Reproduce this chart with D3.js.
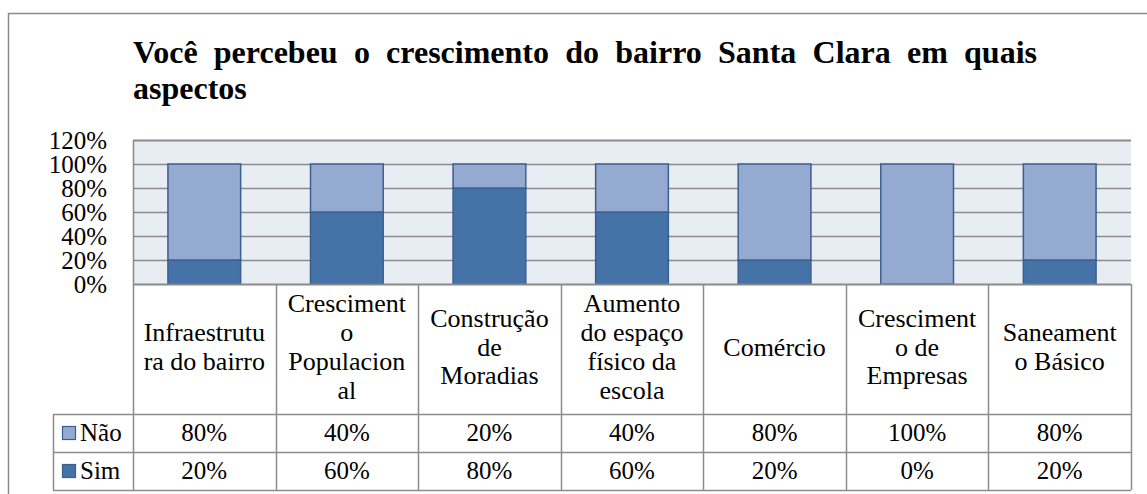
<!DOCTYPE html>
<html>
<head>
<meta charset="utf-8">
<script src="https://cdn.jsdelivr.net/npm/d3@7"></script>
</head>
<body>
<svg id="chart" width="1147" height="494"></svg>
<script>
// Survey answers per aspect of the neighbourhood's growth
const categories = [
  "Infraestrutura do bairro",
  "Crescimento Populacional",
  "Construção de Moradias",
  "Aumento do espaço físico da escola",
  "Comércio",
  "Crescimento de Empresas",
  "Saneamento Básico"
];
const seriesNames = ["Não", "Sim"];
const naoValues = [0.8, 0.4, 0.2, 0.4, 0.8, 1.0, 0.8];
const simValues = [0.2, 0.6, 0.8, 0.6, 0.2, 0.0, 0.2];
const yTicks = [0, 0.2, 0.4, 0.6, 0.8, 1.0, 1.2];
const titleLines = ["Você percebeu o crescimento do bairro Santa Clara em quais", "aspectos"];

const FONT = '"Liberation Serif"';
const colors = { "Não": "#95aad0", "Sim": "#4572a7" };
const barStroke = "#3a6090";
const gridColor = "#8a8a8a";
const tableColor = "#8c8c8c";

d3.select("body").style("margin", "0px");
const svg = d3.select("#chart").style("display", "block");

// text measurement on an offscreen canvas
const ctx = document.createElement("canvas").getContext("2d");
function measure(s, size, weight) {
  ctx.font = `${weight || "normal"} ${size}px ${FONT}`;
  return ctx.measureText(s).width;
}

// layout
const plot = { left: 133, right: 1131, top: 140, bottom: 284 };
const headerBottom = 414;
const rowH = 38;
const legendLeft = 53;

const label = sel => sel.style("font-family", FONT).attr("fill", "#000");

// outer frame
svg.append("rect")
  .attr("x", 8.5).attr("y", 13.5)
  .attr("width", 1200).attr("height", 600)
  .attr("fill", "none").attr("stroke", "#8a8a8a").attr("stroke-width", 1.5);

// title, first line justified
const titleG = svg.append("g");
(function justify(line, x0, x1, yb) {
  const words = line.split(" ");
  const widths = words.map(w => measure(w, 32, "bold"));
  const gap = (x1 - x0 - d3.sum(widths)) / (words.length - 1);
  let cx = x0;
  words.forEach((w, i) => {
    label(titleG.append("text")).attr("font-weight", "bold").attr("font-size", 32)
      .attr("x", cx).attr("y", yb).text(w);
    cx += widths[i] + gap;
  });
})(titleLines[0], 133, 1037, 63);
label(titleG.append("text")).attr("font-weight", "bold").attr("font-size", 32)
  .attr("x", 133).attr("y", 99).text(titleLines[1]);

// scales
const x = d3.scaleBand().domain(categories)
  .range([plot.left, plot.right])
  .paddingInner(0.49).paddingOuter(0.245);
const y = d3.scaleLinear().domain([0, 1.2]).range([plot.bottom, plot.top]);

// plot background
svg.append("rect")
  .attr("x", plot.left).attr("y", plot.top)
  .attr("width", plot.right - plot.left).attr("height", plot.bottom - plot.top)
  .attr("fill", "#e8ecf3");

// gridlines
svg.append("g").selectAll("line")
  .data(yTicks.filter(v => v > 0))
  .join("line")
  .attr("x1", plot.left).attr("x2", plot.right)
  .attr("y1", d => Math.round(y(d)) + 0.5).attr("y2", d => Math.round(y(d)) + 0.5)
  .attr("stroke", gridColor).attr("stroke-width", d => d === 1.2 ? 2 : 1.6);

// left edge of plot area
svg.append("line")
  .attr("x1", plot.left + 0.5).attr("x2", plot.left + 0.5)
  .attr("y1", plot.top).attr("y2", plot.bottom)
  .attr("stroke", gridColor).attr("stroke-width", 1.5);

// stacked bars
const rows = categories.map((c, i) => ({ cat: c, "Sim": simValues[i], "Não": naoValues[i] }));
const stacked = d3.stack().keys(["Sim", "Não"])(rows);
svg.append("g").selectAll("g")
  .data(stacked)
  .join("g")
  .attr("fill", d => colors[d.key])
  .selectAll("rect")
  .data(d => d.filter(s => s[1] - s[0] > 0))
  .join("rect")
  .attr("x", d => x(d.data.cat))
  .attr("width", x.bandwidth())
  .attr("y", d => y(d[1]))
  .attr("height", d => y(d[0]) - y(d[1]))
  .attr("stroke", barStroke).attr("stroke-width", 1.5);

// y axis
const yAxis = svg.append("g")
  .attr("transform", `translate(${plot.left},0)`)
  .call(d3.axisLeft(y).tickValues(yTicks).tickFormat(d3.format(".0%")).tickSize(0).tickPadding(26));
yAxis.attr("font-family", null).select(".domain").remove();
label(yAxis.selectAll("text")).attr("font-size", 25);

// data table grid
const step = x.step();
const colEdges = d3.range(categories.length + 1).map(i => plot.left + i * step);
const tableBottom = headerBottom + rowH * 2;
const tg = svg.append("g").attr("stroke", tableColor).attr("stroke-width", 1.5);
tg.append("line").attr("x1", plot.left).attr("x2", plot.right)
  .attr("y1", plot.bottom + 0.5).attr("y2", plot.bottom + 0.5).attr("stroke", gridColor).attr("stroke-width", 2);
[headerBottom, headerBottom + rowH, tableBottom].forEach(yy =>
  tg.append("line").attr("x1", legendLeft).attr("x2", plot.right)
    .attr("y1", yy + 0.5).attr("y2", yy + 0.5));
colEdges.forEach(cx =>
  tg.append("line").attr("x1", Math.round(cx) + 0.5).attr("x2", Math.round(cx) + 0.5)
    .attr("y1", plot.bottom).attr("y2", tableBottom));
tg.append("line").attr("x1", legendLeft + 0.5).attr("x2", legendLeft + 0.5)
  .attr("y1", headerBottom).attr("y2", tableBottom);

// category headers, wrapped to the cell width (breaks long words by character)
const catFont = 26, lineH = 28.7, maxW = 125;
const textW = s => measure(s, catFont);
function wrap(str) {
  const lines = [];
  let cur = "";
  str.split(" ").forEach(word => {
    const trial = cur ? cur + " " + word : word;
    if (textW(trial) <= maxW) { cur = trial; return; }
    if (cur) lines.push(cur);
    cur = word;
    while (textW(cur) > maxW) {
      let k = cur.length;
      while (k > 1 && textW(cur.slice(0, k)) > maxW) k--;
      lines.push(cur.slice(0, k));
      cur = cur.slice(k);
    }
  });
  if (cur) lines.push(cur);
  return lines;
}
const headerMid = (plot.bottom + headerBottom) / 2;
categories.forEach(c => {
  const lines = wrap(c);
  const cx = x(c) + x.bandwidth() / 2;
  const first = headerMid - (lines.length - 1) / 2 * lineH + 0.25 * catFont;
  const t = label(svg.append("text")).attr("font-size", catFont).attr("text-anchor", "middle");
  lines.forEach((ln, i) => t.append("tspan").attr("x", cx).attr("y", first + i * lineH).text(ln));
});

// table rows: legend key + values
const fmt = d3.format(".0%");
const rowData = [
  { name: seriesNames[0], values: naoValues },
  { name: seriesNames[1], values: simValues }
];
rowData.forEach((r, ri) => {
  const mid = headerBottom + ri * rowH + rowH / 2;
  svg.append("rect")
    .attr("x", 62.5).attr("y", mid - 6.5).attr("width", 13).attr("height", 13)
    .attr("fill", colors[r.name]).attr("stroke", barStroke).attr("stroke-width", 1.2);
  label(svg.append("text")).attr("x", 80).attr("y", mid + 8).attr("font-size", 25).text(r.name);
  label(svg.append("g").selectAll("text")
    .data(r.values)
    .join("text"))
    .attr("x", (d, i) => x(categories[i]) + x.bandwidth() / 2)
    .attr("y", mid + 8)
    .attr("font-size", 25).attr("text-anchor", "middle")
    .text(d => fmt(d));
});
</script>
</body>
</html>
